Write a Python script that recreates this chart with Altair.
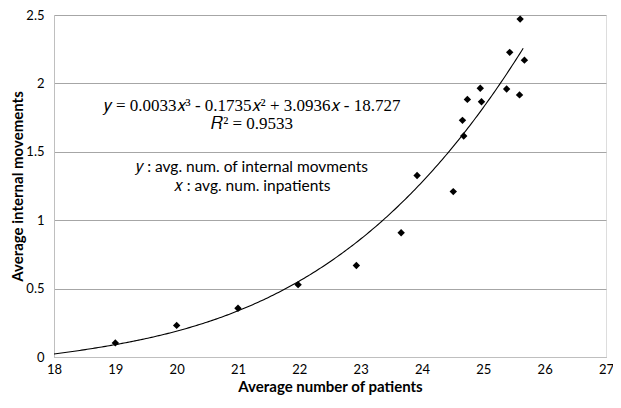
import altair as alt
import pandas as pd

# Data
patients = [19.0, 20.0, 21.0, 21.98, 22.93, 23.66, 23.92, 24.51, 24.66, 24.68,
            24.74, 24.95, 24.97, 25.38, 25.43, 25.59, 25.60, 25.67]
movements = [0.103, 0.231, 0.356, 0.529, 0.669, 0.908, 1.327, 1.209, 1.73, 1.616,
             1.883, 1.964, 1.866, 1.959, 2.227, 1.916, 2.47, 2.17]

# Cubic trendline coefficients (as displayed, leading term read to match the drawn curve)
trend_coef = [0.0033055, -0.1735, 3.0936, -18.727]
trend_range = [18, 25.67]

x_ticks = [18, 19, 20, 21, 22, 23, 24, 25, 26, 27]
y_ticks = [0, 0.5, 1, 1.5, 2, 2.5]

eq_lines = ["𝑦 = 0.0033𝑥³ - 0.1735𝑥² + 3.0936𝑥 - 18.727", "𝑅² = 0.9533"]
eq_x = [21.23, 21.23]
eq_y = [1.835, 1.703]
legend_lines = ["𝑦 : avg. num. of internal movments", "𝑥 : avg. num. inpatients"]
legend_x = [21.23, 21.23]
legend_y = [1.389, 1.25]

df = pd.DataFrame({"x": patients, "y": movements})
eq_df = pd.DataFrame({"x": eq_x, "y": eq_y, "t": eq_lines})
lg_df = pd.DataFrame({"x": legend_x, "y": legend_y, "t": legend_lines})

xs = alt.Scale(domain=[18, 27], nice=False, zero=False)
ys = alt.Scale(domain=[0, 2.5], nice=False)

x_axis = alt.Axis(values=x_ticks, title="Average number of patients", grid=False,
                  tickSize=0, labelPadding=6, titlePadding=3, labelFontSize=13,
                  titleFontSize=15, titleFontWeight="bold", labelFont="Lato",
                  titleFont="Lato", domainColor="#bfbfbf", labelColor="#000",
                  titleColor="#000", labelFlush=False, format="d")
y_axis = alt.Axis(values=y_ticks, title="Average internal movements", grid=True,
                  gridColor="#a6a6a6", tickSize=0, labelPadding=10, titlePadding=0,
                  labelFontSize=13, titleFontSize=15, titleFontWeight="bold",
                  labelFont="Lato", titleFont="Lato", domainColor="#bfbfbf",
                  labelColor="#000", titleColor="#000", format="~g")

points = alt.Chart(df).mark_point(shape="diamond", filled=True, color="black",
                                  size=55, opacity=1).encode(
    x=alt.X("x:Q", scale=xs, axis=x_axis),
    y=alt.Y("y:Q", scale=ys, axis=y_axis),
)

a, b, c, d = trend_coef
trend = alt.Chart(alt.sequence(trend_range[0], trend_range[1] + 0.001, 0.03, as_="x")).transform_calculate(
    y=f"{a}*pow(datum.x,3) + ({b})*pow(datum.x,2) + ({c})*datum.x + ({d})"
).mark_line(color="black", strokeWidth=1.1).encode(
    x=alt.X("x:Q", scale=xs), y=alt.Y("y:Q", scale=ys)
)

eq_text = alt.Chart(eq_df).mark_text(font="Liberation Serif", fontSize=17,
                                     color="black", align="center").encode(
    x=alt.X("x:Q", scale=xs), y=alt.Y("y:Q", scale=ys), text="t:N"
)
lg_text = alt.Chart(lg_df).mark_text(font="Lato", fontSize=15.5, color="black",
                                     align="center").encode(
    x=alt.X("x:Q", scale=xs), y=alt.Y("y:Q", scale=ys), text="t:N"
)

chart = alt.layer(trend, points, eq_text, lg_text).properties(
    width=552, height=342,
    autosize=alt.AutoSizeParams(type="none"),
    padding={"left": 46, "top": 7, "right": 7, "bottom": 38},
).configure_view(stroke=None).configure(background="white")

chart.save("out.html", embed_options={"renderer": "svg", "actions": False})
